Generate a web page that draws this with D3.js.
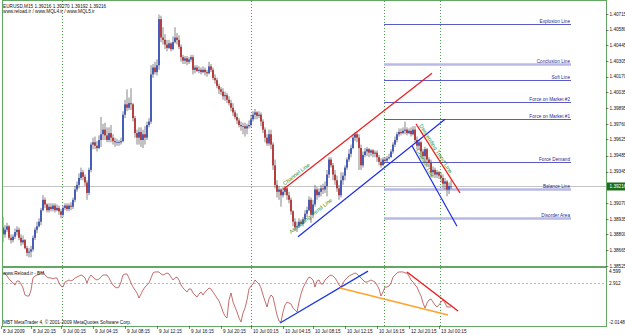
<!DOCTYPE html>
<html><head><meta charset="utf-8">
<script src="https://cdn.jsdelivr.net/npm/d3@7"></script>
<style>body{margin:0;background:#fff}svg{display:block}text{font-family:'Liberation Sans',Arial,sans-serif}</style>
</head><body><svg id="c" width="625" height="335"></svg>
<script>
// ---------- DATA ----------
const opens=[1.3886,1.3880,1.3884,1.3887,1.3877,1.3875,1.3878,1.3882,1.3884,1.3877,
1.3873,1.3875,1.3868,1.3864,1.3865,1.3867,1.3877,1.3884,1.3887,1.3891,
1.3901,1.3910,1.3906,1.3901,1.3904,1.3902,1.3905,1.3901,1.3903,1.3900,
1.3897,1.3903,1.3905,1.3902,1.3905,1.3904,1.3910,1.3919,1.3923,1.3929,
1.3934,1.3930,1.3925,1.3916,1.3936,1.3958,1.3960,1.3957,1.3955,1.3962,
1.3967,1.3971,1.3966,1.3962,1.3968,1.3964,1.3961,1.3960,1.3960,1.3960,
1.3961,1.3984,1.3993,1.3990,1.3994,1.3993,1.3981,1.3968,1.3964,1.3969,
1.3962,1.3967,1.3964,1.3975,1.3978,1.4019,1.4025,1.4021,1.4027,1.4067,
1.4051,1.4049,1.4045,1.4042,1.4046,1.4041,1.4047,1.4051,1.4049,1.4043,
1.4034,1.4031,1.4033,1.4030,1.4032,1.4034,1.4023,1.4025,1.4022,1.4023,
1.4021,1.4023,1.4021,1.4020,1.4026,1.4023,1.4016,1.4014,1.4009,1.4006,
1.4004,1.4000,1.4001,1.3997,1.3994,1.3990,1.3986,1.3982,1.3979,1.3975,
1.3974,1.3974,1.3972,1.3974,1.3975,1.3980,1.3984,1.3986,1.3983,1.3984,
1.3978,1.3971,1.3964,1.3959,1.3967,1.3958,1.3940,1.3923,1.3917,1.3919,
1.3914,1.3917,1.3920,1.3914,1.3910,1.3900,1.3891,1.3886,1.3887,1.3891,
1.3889,1.3893,1.3898,1.3901,1.3910,1.3897,1.3906,1.3919,1.3914,1.3917,
1.3920,1.3919,1.3922,1.3932,1.3945,1.3940,1.3932,1.3927,1.3920,1.3914,
1.3927,1.3931,1.3938,1.3945,1.3950,1.3955,1.3964,1.3967,1.3964,1.3955,
1.3940,1.3949,1.3952,1.3954,1.3951,1.3953,1.3950,1.3951,1.3947,1.3943,
1.3940,1.3945,1.3944,1.3946,1.3947,1.3952,1.3958,1.3962,1.3967,1.3969,
1.3968,1.3970,1.3971,1.3968,1.3970,1.3967,1.3971,1.3962,1.3957,1.3960,
1.3952,1.3948,1.3954,1.3945,1.3942,1.3934,1.3936,1.3932,1.3934,1.3931,
1.3929,1.3924,1.3926,1.3919,1.39216];
const highs=[1.3895,1.3888,1.3890,1.3888,1.3880,1.3880,1.3885,1.3887,1.3886,1.3880,
1.3879,1.3876,1.3870,1.3868,1.3870,1.3879,1.3886,1.3891,1.3894,1.3903,
1.3914,1.3912,1.3907,1.3907,1.3907,1.3907,1.3907,1.3906,1.3905,1.3902,
1.3905,1.3907,1.3907,1.3907,1.3908,1.3912,1.3922,1.3926,1.3933,1.3938,
1.3936,1.3932,1.3927,1.3938,1.3960,1.3964,1.3965,1.3961,1.3966,1.3982,
1.3976,1.3977,1.3973,1.3973,1.3975,1.3967,1.3964,1.3963,1.3962,1.3964,
1.3987,1.3997,1.4006,1.3999,1.4007,1.3994,1.3983,1.3971,1.3973,1.3973,
1.3971,1.3974,1.3978,1.3981,1.4027,1.4028,1.4030,1.4032,1.4071,1.4070,
1.4060,1.4054,1.4049,1.4049,1.4047,1.4052,1.4060,1.4055,1.4053,1.4045,
1.4036,1.4035,1.4035,1.4034,1.4036,1.4036,1.4027,1.4027,1.4026,1.4025,
1.4026,1.4025,1.4023,1.4030,1.4028,1.4025,1.4019,1.4016,1.4011,1.4008,
1.4007,1.4004,1.4003,1.4000,1.3997,1.3994,1.3988,1.3985,1.3981,1.3978,
1.3977,1.3977,1.3976,1.3979,1.3984,1.3987,1.3989,1.3987,1.3987,1.3986,
1.3980,1.3973,1.3967,1.3971,1.3971,1.3960,1.3945,1.3927,1.3922,1.3920,
1.3921,1.3922,1.3921,1.3917,1.3912,1.3901,1.3894,1.3891,1.3894,1.3893,
1.3895,1.3901,1.3904,1.3913,1.3912,1.3910,1.3923,1.3921,1.3920,1.3923,
1.3924,1.3926,1.3936,1.3947,1.3947,1.3942,1.3936,1.3931,1.3923,1.3934,
1.3934,1.3940,1.3947,1.3954,1.3958,1.3967,1.3969,1.3969,1.3967,1.3958,
1.3952,1.3955,1.3956,1.3955,1.3954,1.3954,1.3953,1.3953,1.3949,1.3946,
1.3947,1.3947,1.3948,1.3950,1.3954,1.3960,1.3965,1.3969,1.3972,1.3972,
1.3973,1.3978,1.3973,1.3972,1.3973,1.3974,1.3974,1.3965,1.3962,1.3961,
1.3954,1.3956,1.3955,1.3947,1.3945,1.3939,1.3938,1.3936,1.3935,1.3934,
1.3932,1.3929,1.3927,1.3925,1.3927];
const lows=[1.3873,1.3877,1.3882,1.3875,1.3872,1.3873,1.3876,1.3879,1.3875,1.3870,
1.3871,1.3867,1.3861,1.3860,1.3860,1.3865,1.3875,1.3881,1.3886,1.3888,
1.3900,1.3903,1.3899,1.3899,1.3900,1.3900,1.3899,1.3900,1.3897,1.3894,
1.3895,1.3901,1.3900,1.3900,1.3901,1.3902,1.3908,1.3917,1.3920,1.3927,
1.3927,1.3922,1.3910,1.3914,1.3934,1.3954,1.3954,1.3952,1.3954,1.3956,
1.3962,1.3962,1.3960,1.3960,1.3960,1.3958,1.3956,1.3957,1.3957,1.3958,
1.3960,1.3981,1.3987,1.3988,1.3988,1.3978,1.3964,1.3958,1.3958,1.3956,
1.3955,1.3958,1.3962,1.3973,1.3976,1.4016,1.4019,1.4018,1.4023,1.4047,
1.4045,1.4041,1.4039,1.4041,1.4039,1.4040,1.4046,1.4045,1.4041,1.4030,
1.4028,1.4028,1.4027,1.4028,1.4030,1.4019,1.4020,1.4021,1.4020,1.4019,
1.4020,1.4018,1.4017,1.4019,1.4021,1.4014,1.4011,1.4007,1.4002,1.4001,
1.3997,1.3996,1.3994,1.3992,1.3987,1.3983,1.3980,1.3976,1.3973,1.3970,
1.3967,1.3965,1.3967,1.3972,1.3973,1.3978,1.3980,1.3980,1.3981,1.3974,
1.3968,1.3960,1.3957,1.3957,1.3954,1.3936,1.3920,1.3912,1.3910,1.3904,
1.3912,1.3914,1.3910,1.3907,1.3897,1.3887,1.3883,1.3882,1.3886,1.3887,
1.3887,1.3891,1.3895,1.3900,1.3890,1.3894,1.3904,1.3910,1.3912,1.3913,
1.3915,1.3916,1.3913,1.3929,1.3938,1.3927,1.3923,1.3917,1.3910,1.3912,
1.3923,1.3927,1.3936,1.3943,1.3947,1.3954,1.3961,1.3960,1.3936,1.3936,
1.3938,1.3947,1.3948,1.3947,1.3948,1.3947,1.3947,1.3943,1.3940,1.3938,
1.3940,1.3942,1.3943,1.3945,1.3947,1.3950,1.3956,1.3960,1.3965,1.3966,
1.3967,1.3967,1.3966,1.3967,1.3965,1.3966,1.3960,1.3954,1.3954,1.3947,
1.3945,1.3942,1.3940,1.3938,1.3930,1.3931,1.3929,1.3929,1.3928,1.3925,
1.3920,1.3919,1.3913,1.3915,1.39192];
const closes=[1.3880,1.3884,1.3887,1.3877,1.3875,1.3878,1.3882,1.3884,1.3877,1.3873,
1.3875,1.3868,1.3864,1.3865,1.3867,1.3877,1.3884,1.3887,1.3891,1.3901,
1.3910,1.3906,1.3901,1.3904,1.3902,1.3905,1.3901,1.3903,1.3900,1.3897,
1.3903,1.3905,1.3902,1.3905,1.3904,1.3910,1.3919,1.3923,1.3929,1.3934,
1.3930,1.3925,1.3916,1.3936,1.3958,1.3960,1.3957,1.3955,1.3962,1.3967,
1.3971,1.3966,1.3962,1.3968,1.3964,1.3961,1.3960,1.3960,1.3960,1.3961,
1.3984,1.3993,1.3990,1.3994,1.3993,1.3981,1.3968,1.3964,1.3969,1.3962,
1.3967,1.3964,1.3975,1.3978,1.4019,1.4025,1.4021,1.4027,1.4067,1.4051,
1.4049,1.4045,1.4042,1.4046,1.4041,1.4047,1.4051,1.4049,1.4043,1.4034,
1.4031,1.4033,1.4030,1.4032,1.4034,1.4023,1.4025,1.4022,1.4023,1.4021,
1.4023,1.4021,1.4020,1.4026,1.4023,1.4016,1.4014,1.4009,1.4006,1.4004,
1.4000,1.4001,1.3997,1.3994,1.3990,1.3986,1.3982,1.3979,1.3975,1.3974,
1.3974,1.3972,1.3974,1.3975,1.3980,1.3984,1.3986,1.3983,1.3984,1.3978,
1.3971,1.3964,1.3959,1.3967,1.3958,1.3940,1.3923,1.3917,1.3919,1.3914,
1.3917,1.3920,1.3914,1.3910,1.3900,1.3891,1.3886,1.3887,1.3891,1.3889,
1.3893,1.3898,1.3901,1.3910,1.3897,1.3906,1.3919,1.3914,1.3917,1.3920,
1.3919,1.3922,1.3932,1.3945,1.3940,1.3932,1.3927,1.3920,1.3914,1.3927,
1.3931,1.3938,1.3945,1.3950,1.3955,1.3964,1.3967,1.3964,1.3955,1.3940,
1.3949,1.3952,1.3954,1.3951,1.3953,1.3950,1.3951,1.3947,1.3943,1.3940,
1.3945,1.3944,1.3946,1.3947,1.3952,1.3958,1.3962,1.3967,1.3969,1.3968,
1.3970,1.3971,1.3968,1.3970,1.3967,1.3971,1.3962,1.3957,1.3960,1.3952,
1.3948,1.3954,1.3945,1.3942,1.3934,1.3936,1.3932,1.3934,1.3931,1.3929,
1.3924,1.3926,1.3919,1.3922,1.39216];
const indicator=[4.01,4.13,3.77,3.42,3.18,2.95,2.71,3.18,3.18,2.83,
2.36,1.53,1.41,1.41,2.12,3.54,3.77,3.89,4.01,4.13,
4.25,3.89,3.65,3.54,3.54,3.42,3.54,3.54,2.95,2.59,
2.47,3.06,3.18,3.30,3.18,3.30,3.54,3.65,3.77,3.89,
3.77,3.54,2.95,3.54,3.89,3.65,3.42,3.30,3.42,3.65,
3.89,3.89,3.89,3.54,3.06,2.71,2.47,2.36,2.47,3.06,
3.89,4.01,4.01,3.54,2.95,2.47,2.12,1.77,1.17,1.65,
2.12,2.47,2.71,2.95,3.54,4.13,4.25,4.25,4.25,4.01,
3.89,4.01,4.13,4.01,3.65,3.30,3.54,3.65,3.30,2.71,
2.36,2.12,1.88,2.24,2.24,1.77,1.53,1.29,1.65,1.88,
1.53,1.88,2.12,2.36,2.24,1.88,1.53,1.17,0.82,0.23,
-0.48,-0.95,-1.19,0.94,1.77,0.70,0.11,-0.48,-1.19,-1.66,
-0.60,-0.01,0.94,2.24,2.59,2.83,3.30,3.06,2.83,2.36,
1.53,0.82,0.11,1.06,1.53,1.29,0.23,-0.83,-1.54,-1.66,
-0.48,0.35,0.70,0.58,0.47,-0.01,-0.24,-0.48,0.70,1.65,
2.36,2.83,3.30,3.65,3.54,3.30,2.47,3.18,3.30,2.83,
2.83,3.30,3.54,3.77,3.89,3.77,3.54,3.18,2.71,2.47,
2.95,3.30,3.54,3.77,3.89,4.01,4.13,4.01,3.77,3.54,
3.30,3.06,3.06,3.18,3.30,3.18,3.06,2.71,2.24,1.41,
1.88,2.47,2.47,2.59,2.95,3.65,3.89,4.13,4.25,4.25,
4.25,4.13,4.13,3.77,3.30,3.06,2.71,2.47,1.88,1.41,
0.58,-0.01,0.58,0.94,1.06,0.70,0.35,0.11,0.35,0.70,
0.94,0.58,0.11,0.11,0.11];

const priceTicks=[1.40715,1.40580,1.40445,1.40305,1.40170,1.40035,1.39895,1.39760,1.39625,1.39485,1.39345,1.39070,1.38935,1.38800,1.38665,1.38525];
const currentPrice=1.39216;
const priceMin=1.38525, priceMax=1.40715;
const indMin=-2.0148, indMax=4.599;
const indTicks=[4.599,2.912,-2.0148];
const indLevel=2.912;

const timeTickIdx=[0,15,30,46,62,78,94,110,125,141,156,172,188,204,219];
const timeTickLabels=["8 Jul 2009","8 Jul 20:15","9 Jul 00:15","9 Jul 04:15","9 Jul 08:15","9 Jul 12:15","9 Jul 16:15","9 Jul 20:15","10 Jul 00:15","10 Jul 04:15","10 Jul 08:15","10 Jul 12:15","10 Jul 16:15","12 Jul 20:15","13 Jul 00:15"];
const separatorIdx=[29.5,124,190.5,218.5];

const levelNames=["Explosion Line","Conclusion Line","Soft Line","Force on Market #2","Force on Market #1","Force Demand","Balance Line","Disorder Area"];
const levelPrices=[1.4063,1.4028,1.4014,1.3995,1.3980,1.3943,1.3919,1.3894];
const levelStartIdx=190.5, levelEndIdx=284;

const trendNames=["Channel Line","Ascending Trend Line","Descending Trend Line","Channel Line"];
const trendStartIdx=[140,147.5,206.5,204.5];
const trendStartPrice=[1.3919,1.3878,1.3976,1.3957];
const trendEndIdx=[214.5,221,228.5,227];
const trendEndPrice=[1.4020,1.3980,1.3916,1.3887];

const indLineStartIdx=[138.5,168.5,202];
const indLineStartVal=[-1.78,2.36,4.25];
const indLineEndIdx=[182.5,222.5,227.5];
const indLineEndVal=[4.36,-0.83,-0.36];

const headerLine1="EURUSD,M15  1.39216 1.39270 1.39192 1.39216";
const headerLine2="www.reload.ir   /   www.MQL4.ir   /   www.MQL5.ir";
const indName="www.Reload.ir - BM";
const copyright="MBT MetaTrader 4, \u00A9 2001-2009 MetaQuotes Software Corp.";

// ---------- STYLE / LAYOUT ----------
const W=625,H=335;
const L=2,R=606,mainTop=1,mainBot=267,indTop=268,indBot=326;
const FS=4.7;
const green="#62a862";
const bars=d3.range(closes.length).map(i=>({i,o:opens[i],h:highs[i],l:lows[i],c:closes[i]}));

const svg=d3.select("#c");
const x=d3.scaleLinear().domain([0,224]).range([3,451]);
const y=d3.scaleLinear().domain([priceMin,priceMax]).range([266,14]);
const yi=d3.scaleLinear().domain([indMin,indMax]).range([325,269]);

svg.append("rect").attr("width",W).attr("height",H).attr("fill","#fff");

const defs=svg.append("defs");
defs.append("clipPath").attr("id","cm").append("rect").attr("x",L).attr("y",mainTop).attr("width",R-L).attr("height",mainBot-mainTop);
defs.append("clipPath").attr("id","ci").append("rect").attr("x",L).attr("y",indTop).attr("width",R-L).attr("height",indBot-indTop);

// separators
svg.append("g").selectAll("line").data(separatorIdx).join("line")
  .attr("x1",d=>Math.round(x(d))+0.5).attr("x2",d=>Math.round(x(d))+0.5)
  .attr("y1",mainTop).attr("y2",indBot)
  .attr("stroke","#4f9f4f").attr("stroke-width",1).attr("stroke-dasharray","1,2");

// current price line
svg.append("line").attr("x1",L).attr("x2",R).attr("y1",Math.round(y(currentPrice))+0.5).attr("y2",Math.round(y(currentPrice))+0.5)
  .attr("stroke","#c4c4c4").attr("stroke-width",1);

// horizontal levels
const thick=new Set(["Conclusion Line","Balance Line","Disorder Area"]);
const lv=svg.append("g");
levelNames.forEach((n,k)=>{
  const yy=Math.round(y(levelPrices[k]))+0.5;
  lv.append("line").attr("x1",x(levelStartIdx)).attr("x2",x(levelEndIdx)).attr("y1",yy).attr("y2",yy)
    .attr("stroke",thick.has(n)?"#b9b9e6":"#5a5ac8").attr("stroke-width",thick.has(n)?2.6:1);
  lv.append("text").attr("x",x(levelEndIdx)-1).attr("y",yy-(thick.has(n)?1.8:1.2)).attr("text-anchor","end")
    .attr("font-size",FS).attr("fill","#2a2a90").text(n);
});

// candles
const cg=svg.append("g").attr("clip-path","url(#cm)");
cg.selectAll("line").data(bars).join("line")
  .attr("x1",d=>x(d.i)).attr("x2",d=>x(d.i))
  .attr("y1",d=>y(Math.max(d.h,d.o,d.c))).attr("y2",d=>y(Math.min(d.l,d.o,d.c)))
  .attr("stroke","#505050").attr("stroke-width",0.7);
cg.selectAll("rect").data(bars).join("rect")
  .attr("x",d=>x(d.i)-0.8).attr("width",1.6)
  .attr("y",d=>y(Math.max(d.o,d.c)))
  .attr("height",d=>Math.max(0.7,Math.abs(y(d.o)-y(d.c))))
  .attr("fill",d=>d.c>=d.o?"#2b45b5":"#b52020");

// trend lines
const tg=svg.append("g").attr("clip-path","url(#cm)");
const tColors=["#ee1c1c","#1c2ce8","#ee1c1c","#1c2ce8"];
trendNames.forEach((n,k)=>{
  const x1=x(trendStartIdx[k]),y1=y(trendStartPrice[k]),x2=x(trendEndIdx[k]),y2=y(trendEndPrice[k]);
  tg.append("line").attr("x1",x1).attr("y1",y1).attr("x2",x2).attr("y2",y2).attr("stroke",tColors[k]).attr("stroke-width",1.2);
});
// trend labels
const lblT=[0.02,-0.02,0.04,0.06];
const lblOff=[-2,-6.5,-1.5,-1.2];
trendNames.forEach((n,k)=>{
  const x1=x(trendStartIdx[k]),y1=y(trendStartPrice[k]),x2=x(trendEndIdx[k]),y2=y(trendEndPrice[k]);
  const ang=Math.atan2(y2-y1,x2-x1);
  const nx=Math.sin(ang),ny=-Math.cos(ang);
  const px=x1+(x2-x1)*lblT[k]-nx*lblOff[k], py=y1+(y2-y1)*lblT[k]-ny*lblOff[k];
  tg.append("text").attr("transform",`translate(${px},${py}) rotate(${ang*180/Math.PI})`)
    .attr("font-size",5.5).attr("fill","#2f8f2f").text(n);
});

// header texts
svg.append("text").attr("x",3).attr("y",7.5).attr("font-size",FS).attr("fill","#111").text(headerLine1);
svg.append("text").attr("x",3).attr("y",13).attr("font-size",FS).attr("fill","#111").text(headerLine2);

// indicator panel
svg.append("line").attr("x1",L).attr("x2",R).attr("y1",Math.round(yi(indLevel))+0.5).attr("y2",Math.round(yi(indLevel))+0.5)
  .attr("stroke","#b8b8b8").attr("stroke-dasharray","2,2");
const ig=svg.append("g").attr("clip-path","url(#ci)");
ig.append("path").datum(indicator).attr("fill","none").attr("stroke","#b44a4a").attr("stroke-width",0.8)
  .attr("d",d3.line().x((d,i)=>x(i)).y(d=>yi(d)));
const iColors=["#1f3ce0","#ffa22e","#ee1c1c"];
indLineStartIdx.forEach((s,k)=>{
  ig.append("line").attr("x1",x(s)).attr("y1",yi(indLineStartVal[k])).attr("x2",x(indLineEndIdx[k])).attr("y2",yi(indLineEndVal[k]))
    .attr("stroke",iColors[k]).attr("stroke-width",1.4);
});
svg.append("text").attr("x",3).attr("y",274.5).attr("font-size",FS).attr("fill","#111").text(indName);
svg.append("text").attr("x",3).attr("y",323.5).attr("font-size",FS).attr("fill","#111").text(copyright);

// borders
const bd=svg.append("g").attr("stroke",green).attr("fill","none");
bd.append("line").attr("x1",L+0.5).attr("x2",L+0.5).attr("y1",0).attr("y2",indBot);
bd.append("line").attr("x1",R+0.5).attr("x2",R+0.5).attr("y1",0).attr("y2",indBot+0.5);
bd.append("line").attr("x1",L).attr("x2",R).attr("y1",0.5).attr("y2",0.5);
bd.append("line").attr("x1",L).attr("x2",R+1).attr("y1",267).attr("y2",267).attr("stroke-width",2);
bd.append("line").attr("x1",L).attr("x2",R+1).attr("y1",indBot+0.5).attr("y2",indBot+0.5);

// price axis
const pa=svg.append("g");
pa.selectAll("line").data(priceTicks).join("line").attr("x1",R).attr("x2",R+2.5)
  .attr("y1",d=>Math.round(y(d))+0.5).attr("y2",d=>Math.round(y(d))+0.5).attr("stroke","#333").attr("stroke-width",0.6);
pa.selectAll("text").data(priceTicks).join("text").attr("x",R+3.5).attr("y",d=>y(d)+1.7)
  .attr("font-size",FS).attr("fill","#111").text(d=>d.toFixed(5));
const cy=y(currentPrice);
svg.append("rect").attr("x",R+1).attr("y",cy-4).attr("width",W-R-1).attr("height",8).attr("fill","#1c6e1c");
svg.append("text").attr("x",R+3.5).attr("y",cy+1.7).attr("font-size",FS).attr("fill","#fff").text(currentPrice.toFixed(5));

// indicator axis
const indOff=[3.8,2.2,-0.6];
svg.append("g").selectAll("text").data(indTicks).join("text").attr("x",R+3).attr("y",(d,k)=>yi(d)+indOff[k])
  .attr("font-size",FS).attr("fill","#111").text(d=>String(d));

// time axis
const ta=svg.append("g");
ta.selectAll("line").data(timeTickIdx).join("line").attr("x1",d=>Math.round(x(d))-1.5).attr("x2",d=>Math.round(x(d))-1.5)
  .attr("y1",indBot).attr("y2",indBot+3).attr("stroke","#333").attr("stroke-width",0.6);
ta.selectAll("text").data(timeTickIdx).join("text").attr("x",d=>x(d)).attr("y",333)
  .attr("font-size",FS).attr("fill","#111").text((d,k)=>timeTickLabels[k]);
</script></body></html>
